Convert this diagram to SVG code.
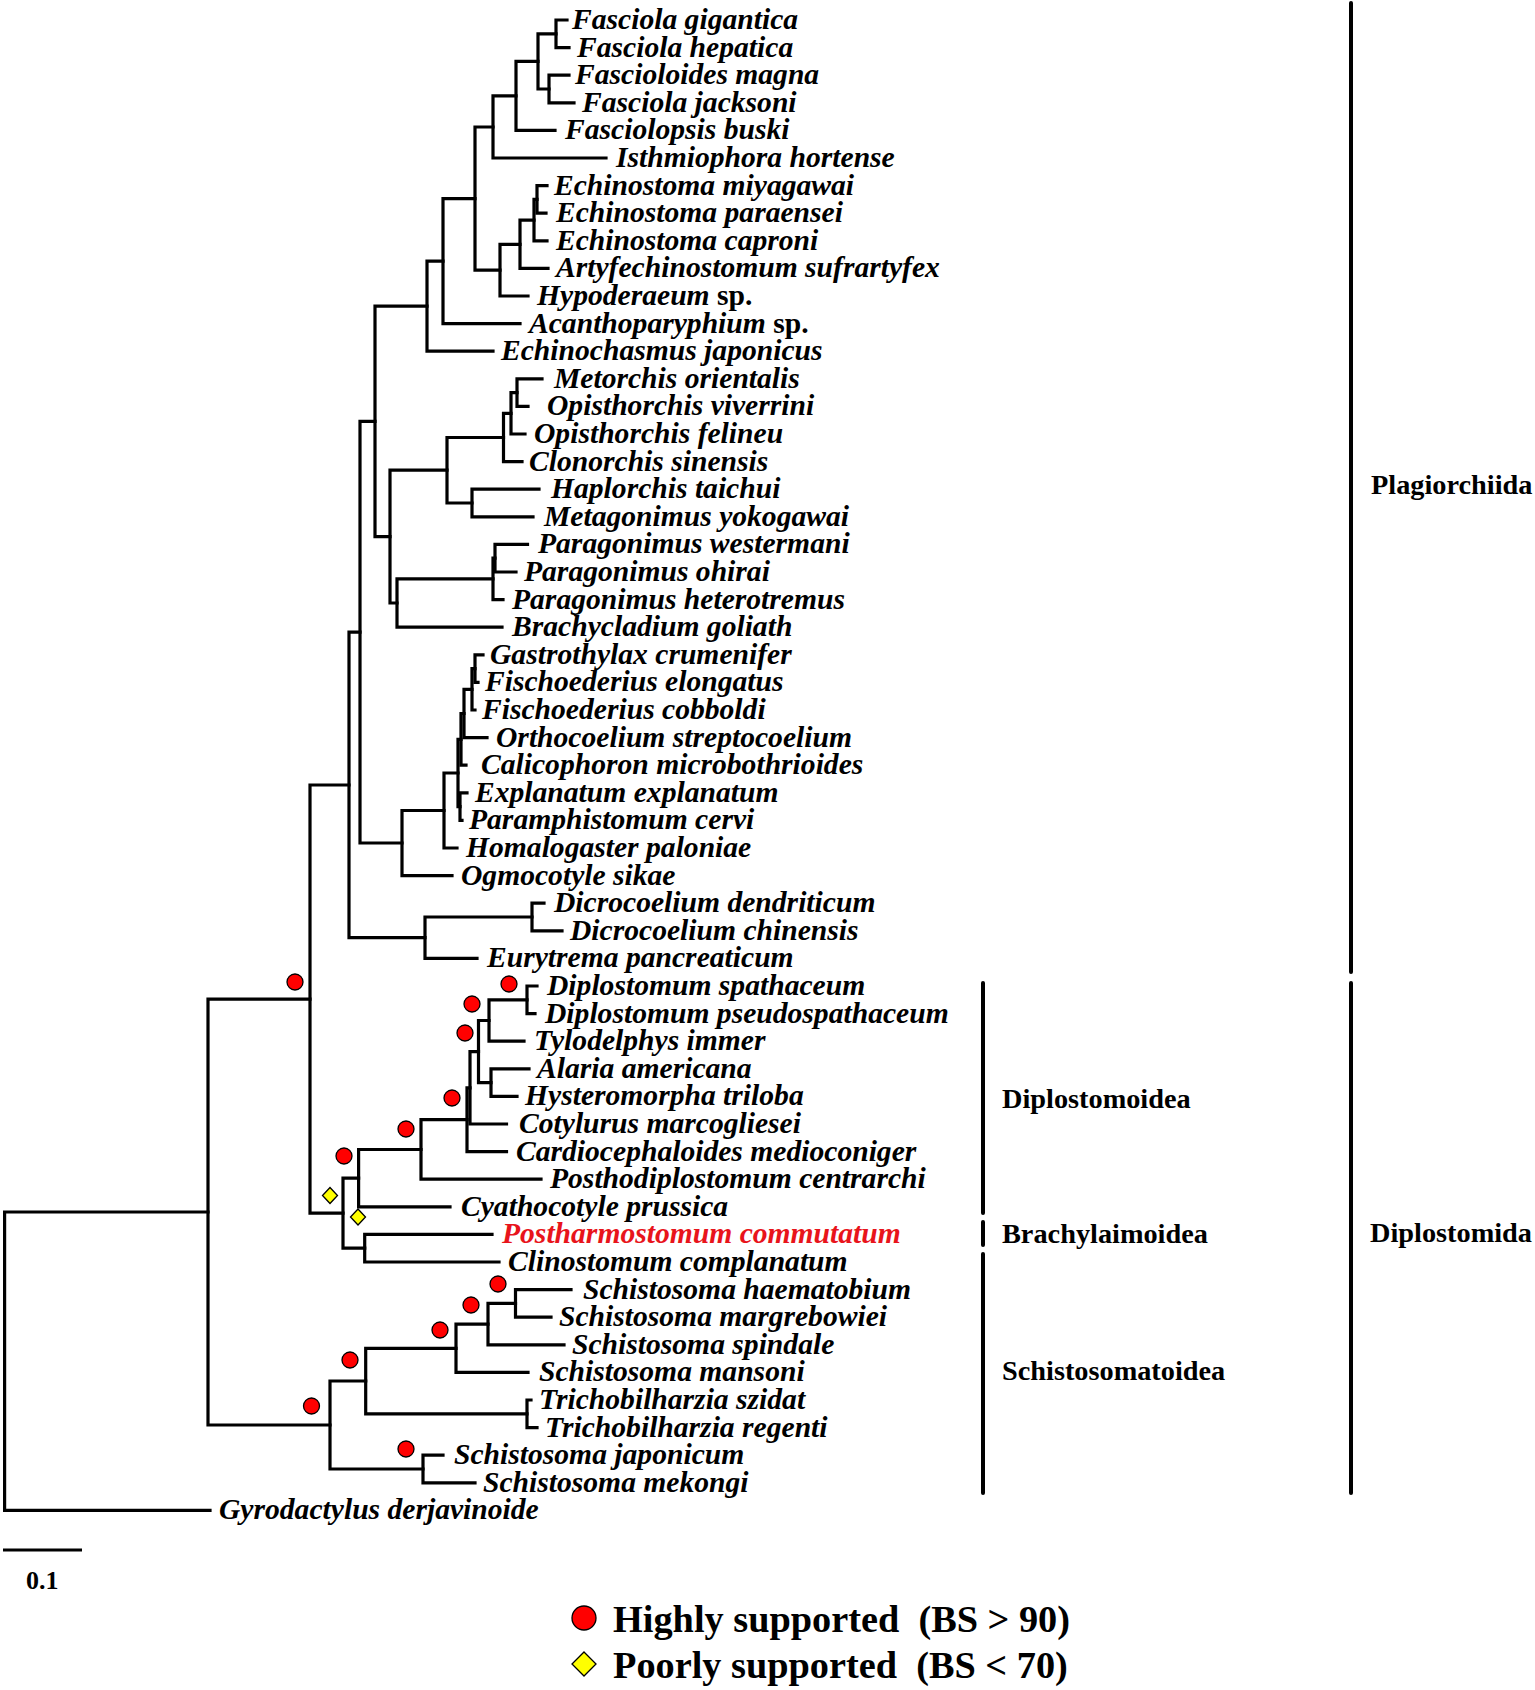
<svg xmlns="http://www.w3.org/2000/svg" width="1535" height="1690" viewBox="0 0 1535 1690">
<style>
.br{fill:none;stroke:#000;stroke-width:3.2;stroke-linejoin:miter;stroke-linecap:square}
.lf{font-family:"Liberation Serif","Times New Roman",serif;font-weight:bold;font-style:italic;font-size:29.6px;fill:#000}
.np{font-style:normal}
.red{fill:#e8141b}
.grp{font-family:"Liberation Serif","Times New Roman",serif;font-weight:bold;font-size:28.3px;fill:#000}
.leg{font-family:"Liberation Serif","Times New Roman",serif;font-weight:bold;font-size:38.3px;fill:#000}
.hs{fill:#ff0000;stroke:#000;stroke-width:1.3}
.ps{fill:#ffff00;stroke:#000;stroke-width:1.3}
.bk{stroke:#000;stroke-width:4;stroke-linecap:round}
</style>
<defs>
<circle id="hi" r="8" class="hs"/>
<path id="lo" d="M0,-8 L7.5,0 L0,8 L-7.5,0 Z" class="ps"/>
</defs>
<rect width="1535" height="1690" fill="#fff"/>
<g id="connectors">
<path class="br" d="M567 20 H556 V47.6 H569"/>
<path class="br" d="M569 75.2 H549 V102.8 H574"/>
<path class="br" d="M556 33.8 H538 V89 H549"/>
<path class="br" d="M538 61.4 H516 V130.4 H555"/>
<path class="br" d="M516 95.9 H493 V158 H606"/>
<path class="br" d="M547 185.6 H537 V213.2 H546"/>
<path class="br" d="M537 199.4 H534 V240.8 H547"/>
<path class="br" d="M534 220.1 H520 V268.4 H548"/>
<path class="br" d="M520 244.3 H500 V296 H528"/>
<path class="br" d="M493 127 H475 V270.1 H500"/>
<path class="br" d="M475 198.6 H443 V323.6 H520"/>
<path class="br" d="M443 261.1 H427 V351.2 H493"/>
<path class="br" d="M542 378.8 H517 V406.4 H528"/>
<path class="br" d="M517 392.6 H511 V434 H525"/>
<path class="br" d="M511 413.3 H503.5 V461.6 H522"/>
<path class="br" d="M539 489.2 H472 V516.8 H533"/>
<path class="br" d="M503.5 437.5 H447 V503 H472"/>
<path class="br" d="M527.5 544.4 H495 V572 H516"/>
<path class="br" d="M495 558.2 H493 V599.6 H503"/>
<path class="br" d="M493 578.9 H397 V627.2 H502"/>
<path class="br" d="M447 470.2 H390 V603 H397"/>
<path class="br" d="M427 306.2 H375 V536.6 H390"/>
<path class="br" d="M483 654.8 H475 V682.4 H478"/>
<path class="br" d="M475 668.6 H472 V710 H475"/>
<path class="br" d="M472 689.3 H464 V737.6 H487"/>
<path class="br" d="M464 713.5 H461 V765.2 H466"/>
<path class="br" d="M467 792.8 H460 V820.4 H462"/>
<path class="br" d="M461 739.3 H458 V806.6 H460"/>
<path class="br" d="M458 773 H444 V848 H457"/>
<path class="br" d="M444 810.5 H402 V875.6 H452"/>
<path class="br" d="M375 421.4 H360 V843 H402"/>
<path class="br" d="M544 903.2 H532 V930.8 H562"/>
<path class="br" d="M532 917 H425 V958.4 H477"/>
<path class="br" d="M360 632.2 H349 V937.7 H425"/>
<path class="br" d="M349 785 H310 V1213.2 H343"/>
<path class="br" d="M537 986 H527 V1013.6 H535"/>
<path class="br" d="M527 999.8 H489 V1041.2 H524"/>
<path class="br" d="M529 1068.8 H491 V1096.4 H517"/>
<path class="br" d="M489 1020.5 H478.5 V1082.6 H491"/>
<path class="br" d="M478.5 1051.6 H470 V1124 H506.5"/>
<path class="br" d="M470 1087.8 H467 V1151.6 H506.5"/>
<path class="br" d="M467 1119.7 H421 V1179.2 H541"/>
<path class="br" d="M421 1149.5 H358.6 V1206.8 H450"/>
<path class="br" d="M492 1234.4 H364.7 V1262 H499"/>
<path class="br" d="M358.6 1178.1 H343 V1248.2 H364.7"/>
<path class="br" d="M571 1289.6 H515.5 V1317.2 H551"/>
<path class="br" d="M515.5 1303.4 H488 V1344.8 H564"/>
<path class="br" d="M488 1324.1 H456 V1372.4 H528"/>
<path class="br" d="M531 1400 H527 V1427.6 H537"/>
<path class="br" d="M456 1348.3 H365.7 V1413.8 H527"/>
<path class="br" d="M443 1455.2 H423 V1482.8 H475"/>
<path class="br" d="M365.7 1381 H330 V1469 H423"/>
<path class="br" d="M310 999.1 H208 V1425 H330"/>
<path class="br" d="M208 1212 H4.6 V1510.4 H210"/>
</g>
<g id="support">
<use href="#hi" x="295" y="982"/>
<use href="#hi" x="509" y="984"/>
<use href="#hi" x="472" y="1004"/>
<use href="#hi" x="465" y="1033"/>
<use href="#hi" x="452" y="1098"/>
<use href="#hi" x="406" y="1129"/>
<use href="#hi" x="344" y="1156"/>
<use href="#hi" x="311.5" y="1406"/>
<use href="#hi" x="350" y="1360"/>
<use href="#hi" x="440" y="1330"/>
<use href="#hi" x="471" y="1305"/>
<use href="#hi" x="498" y="1284"/>
<use href="#hi" x="406" y="1449"/>
<use href="#lo" x="330" y="1195.5"/>
<use href="#lo" x="358" y="1217"/>
</g>
<g id="leaves">
<g id="leaf01"><text class="lf" x="572" y="29">Fasciola gigantica</text></g>
<g id="leaf02"><text class="lf" x="577" y="56.6">Fasciola hepatica</text></g>
<g id="leaf03"><text class="lf" x="575" y="84.2">Fascioloides magna</text></g>
<g id="leaf04"><text class="lf" x="582" y="111.8">Fasciola jacksoni</text></g>
<g id="leaf05"><text class="lf" x="565" y="139.4">Fasciolopsis buski</text></g>
<g id="leaf06"><text class="lf" x="616" y="167">Isthmiophora hortense</text></g>
<g id="leaf07"><text class="lf" x="554" y="194.6">Echinostoma miyagawai</text></g>
<g id="leaf08"><text class="lf" x="556" y="222.2">Echinostoma paraensei</text></g>
<g id="leaf09"><text class="lf" x="556" y="249.8">Echinostoma caproni</text></g>
<g id="leaf10"><text class="lf" x="556" y="277.4">Artyfechinostomum sufrartyfex</text></g>
<g id="leaf11"><text class="lf" x="537" y="305">Hypoderaeum <tspan class="np">sp.</tspan></text></g>
<g id="leaf12"><text class="lf" x="529" y="332.6">Acanthoparyphium <tspan class="np">sp.</tspan></text></g>
<g id="leaf13"><text class="lf" x="501" y="360.2">Echinochasmus japonicus</text></g>
<g id="leaf14"><text class="lf" x="554" y="387.8">Metorchis orientalis</text></g>
<g id="leaf15"><text class="lf" x="547" y="415.4">Opisthorchis viverrini</text></g>
<g id="leaf16"><text class="lf" x="534" y="443">Opisthorchis felineu</text></g>
<g id="leaf17"><text class="lf" x="529" y="470.6">Clonorchis sinensis</text></g>
<g id="leaf18"><text class="lf" x="551" y="498.2">Haplorchis taichui</text></g>
<g id="leaf19"><text class="lf" x="544" y="525.8">Metagonimus yokogawai</text></g>
<g id="leaf20"><text class="lf" x="538" y="553.4">Paragonimus westermani</text></g>
<g id="leaf21"><text class="lf" x="524" y="581">Paragonimus ohirai</text></g>
<g id="leaf22"><text class="lf" x="512" y="608.6">Paragonimus heterotremus</text></g>
<g id="leaf23"><text class="lf" x="512" y="636.2">Brachycladium goliath</text></g>
<g id="leaf24"><text class="lf" x="490" y="663.8">Gastrothylax crumenifer</text></g>
<g id="leaf25"><text class="lf" x="485" y="691.4">Fischoederius elongatus</text></g>
<g id="leaf26"><text class="lf" x="482" y="719">Fischoederius cobboldi</text></g>
<g id="leaf27"><text class="lf" x="496" y="746.6">Orthocoelium streptocoelium</text></g>
<g id="leaf28"><text class="lf" x="481" y="774.2">Calicophoron microbothrioides</text></g>
<g id="leaf29"><text class="lf" x="475" y="801.8">Explanatum explanatum</text></g>
<g id="leaf30"><text class="lf" x="469" y="829.4">Paramphistomum cervi</text></g>
<g id="leaf31"><text class="lf" x="466" y="857">Homalogaster paloniae</text></g>
<g id="leaf32"><text class="lf" x="461" y="884.6">Ogmocotyle sikae</text></g>
<g id="leaf33"><text class="lf" x="554" y="912.2">Dicrocoelium dendriticum</text></g>
<g id="leaf34"><text class="lf" x="570" y="939.8">Dicrocoelium chinensis</text></g>
<g id="leaf35"><text class="lf" x="487" y="967.4">Eurytrema pancreaticum</text></g>
<g id="leaf36"><text class="lf" x="547" y="995">Diplostomum spathaceum</text></g>
<g id="leaf37"><text class="lf" x="545" y="1022.6">Diplostomum pseudospathaceum</text></g>
<g id="leaf38"><text class="lf" x="534" y="1050.2">Tylodelphys immer</text></g>
<g id="leaf39"><text class="lf" x="537" y="1077.8">Alaria americana</text></g>
<g id="leaf40"><text class="lf" x="525" y="1105.4">Hysteromorpha triloba</text></g>
<g id="leaf41"><text class="lf" x="519" y="1133">Cotylurus marcogliesei</text></g>
<g id="leaf42"><text class="lf" x="516" y="1160.6">Cardiocephaloides medioconiger</text></g>
<g id="leaf43"><text class="lf" x="550" y="1188.2">Posthodiplostomum centrarchi</text></g>
<g id="leaf44"><text class="lf" x="461" y="1215.8">Cyathocotyle prussica</text></g>
<g id="leaf45"><text class="lf red" x="502" y="1243.4">Postharmostomum commutatum</text></g>
<g id="leaf46"><text class="lf" x="508" y="1271">Clinostomum complanatum</text></g>
<g id="leaf47"><text class="lf" x="583" y="1298.6">Schistosoma haematobium</text></g>
<g id="leaf48"><text class="lf" x="559" y="1326.2">Schistosoma margrebowiei</text></g>
<g id="leaf49"><text class="lf" x="572" y="1353.8">Schistosoma spindale</text></g>
<g id="leaf50"><text class="lf" x="539" y="1381.4">Schistosoma mansoni</text></g>
<g id="leaf51"><text class="lf" x="539" y="1409">Trichobilharzia szidat</text></g>
<g id="leaf52"><text class="lf" x="545" y="1436.6">Trichobilharzia regenti</text></g>
<g id="leaf53"><text class="lf" x="454" y="1464.2">Schistosoma japonicum</text></g>
<g id="leaf54"><text class="lf" x="483" y="1491.8">Schistosoma mekongi</text></g>
<g id="leaf55"><text class="lf" x="219" y="1519.4">Gyrodactylus derjavinoide</text></g>
</g>
<g id="clades">
<g id="clade-plagiorchiida"><line class="bk" x1="1351" y1="3" x2="1351" y2="972"/><text class="grp" x="1371" y="494">Plagiorchiida</text></g>
<g id="clade-diplostomida"><line class="bk" x1="1351" y1="983" x2="1351" y2="1493"/><text class="grp" x="1370" y="1242">Diplostomida</text></g>
<g id="clade-diplostomoidea"><line class="bk" x1="983" y1="983" x2="983" y2="1213"/><text class="grp" x="1002" y="1108">Diplostomoidea</text></g>
<g id="clade-brachylaimoidea"><line class="bk" x1="983" y1="1222" x2="983" y2="1245"/><text class="grp" x="1002" y="1243">Brachylaimoidea</text></g>
<g id="clade-schistosomatoidea"><line class="bk" x1="983" y1="1254" x2="983" y2="1493"/><text class="grp" x="1002" y="1380">Schistosomatoidea</text></g>
</g>
<g id="scale">
<line x1="3" y1="1550" x2="82" y2="1550" stroke="#000" stroke-width="3.2"/>
<text class="grp" x="26" y="1589" style="font-size:26px">0.1</text>
</g>
<g id="legend">
<circle cx="584" cy="1618" r="12" class="hs" stroke-width="1.6"/>
<text class="leg" x="613" y="1632" xml:space="preserve">Highly supported  (BS &gt; 90)</text>
<path d="M584,1652 L596,1664 L584,1676 L572,1664 Z" class="ps" stroke-width="1.6"/>
<text class="leg" x="613" y="1678" xml:space="preserve">Poorly supported  (BS &lt; 70)</text>
</g>
</svg>
